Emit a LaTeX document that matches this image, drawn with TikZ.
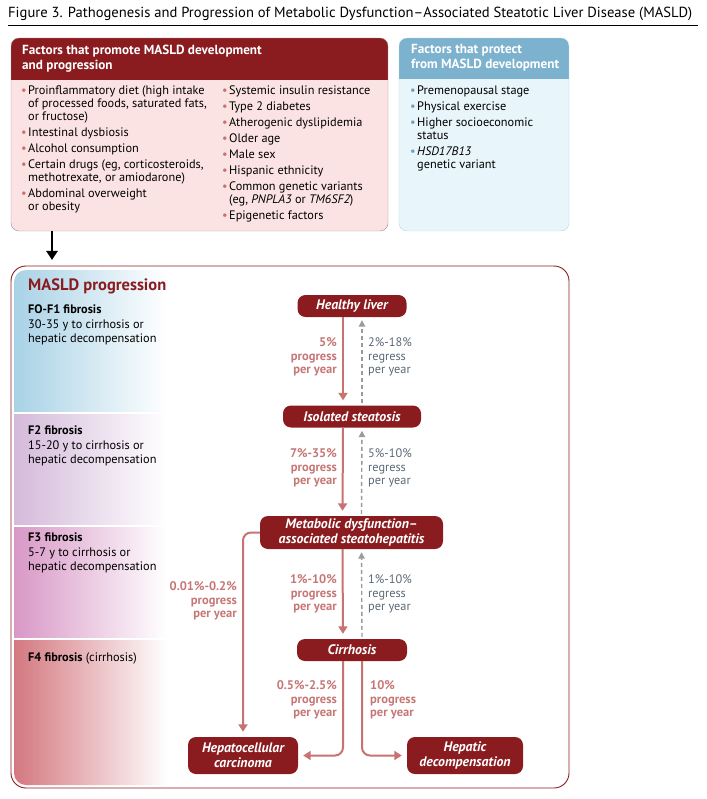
\documentclass[tikz,border=0pt]{standalone}
\usepackage{fontspec}
\setmainfont{PT Sans}
\usetikzlibrary{arrows.meta,positioning,calc}
\definecolor{maroon}{RGB}{138,28,32}
\definecolor{pinkbg}{RGB}{252,227,227}
\definecolor{pinkline}{RGB}{160,140,140}
\definecolor{bluehead}{RGB}{125,178,206}
\definecolor{bluebg}{RGB}{232,245,251}
\definecolor{blueline}{RGB}{184,214,230}
\definecolor{bulred}{RGB}{205,110,110}
\definecolor{bulblue}{RGB}{110,160,190}
\definecolor{progcol}{RGB}{200,114,114}
\definecolor{labcol}{RGB}{199,118,118}
\definecolor{regcol}{RGB}{90,104,118}
\definecolor{dashcol}{RGB}{155,155,155}
\definecolor{bandA}{RGB}{168,210,230}
\definecolor{bandB}{RGB}{212,186,218}
\definecolor{bandC}{RGB}{216,152,198}
\definecolor{bandD}{RGB}{212,120,128}
\newcommand{\itm}[1]{\makebox[7pt][l]{\textcolor{bulred}{\textbullet}}#1}
\newcommand{\itb}[1]{\makebox[7pt][l]{\textcolor{bulblue}{\textbullet}}#1}
\newcommand{\cnt}[1]{\hspace*{7pt}#1}
\tikzset{
  stage/.style={fill=maroon, rounded corners=8pt, text=white, align=center,
    font=\fontsize{13.8}{15}\selectfont\bfseries\itshape, inner sep=0pt,
    minimum height=22pt},
  prog/.style={progcol, line width=2pt, -{Triangle[width=9pt,length=7.5pt]}},
  regr/.style={dashcol, line width=1.4pt, dash pattern=on 4pt off 3pt,
    -{Triangle[width=6.5pt,length=6.5pt]}},
  prlab/.style={anchor=east, align=right, text=labcol, inner sep=0pt,
    font=\fontsize{12.5}{13.5}\selectfont\bfseries},
  rglab/.style={anchor=west, align=left, text=regcol, inner sep=0pt,
    font=\fontsize{12.3}{13.5}\selectfont},
  listtext/.style={anchor=north west, align=left, inner sep=0pt,
    font=\fontsize{12.3}{13}\selectfont},
  headtext/.style={anchor=north west, align=left, inner sep=0pt, text=white,
    font=\fontsize{13.2}{15}\selectfont\bfseries},
  stagetext/.style={anchor=north west, align=left, inner sep=0pt,
    font=\fontsize{12.3}{14.5}\selectfont}
}
\begin{document}
\begin{tikzpicture}[x=1pt, y=-1pt]
\useasboundingbox (0,0) rectangle (706,799);
% title
\node[anchor=west, inner sep=0pt, font=\fontsize{14.6}{16}\selectfont] (title) at (8,14)
  {Figure 3. Pathogenesis and Progression of Metabolic Dysfunction–Associated Steatotic Liver Disease (MASLD)};
\draw[line width=1pt] (8,26) -- (698,26);
% promoting factors
\begin{scope}
\fill[pinkbg, rounded corners=8pt] (11,38) rectangle (388,231);
\clip[rounded corners=8pt] (11,38) rectangle (388,231);
\fill[maroon] (11,38) rectangle (388,80);
\end{scope}
\draw[pinkline, rounded corners=8pt] (11,38) rectangle (388,231);
\node[headtext] (promhead) at (22,44.5) {Factors that promote MASLD development\\and progression};
\node[listtext] (promA) at (21,86) {\itm{Proinflammatory diet (high intake}\\
  \cnt{of processed foods, saturated fats,}\\
  \cnt{or fructose)}\\[3pt]
  \itm{Intestinal dysbiosis}\\[3pt]
  \itm{Alcohol consumption}\\[3pt]
  \itm{Certain drugs (eg, corticosteroids,}\\
  \cnt{methotrexate, or amiodarone)}\\[3pt]
  \itm{Abdominal overweight}\\
  \cnt{or obesity}};
\node[listtext] (promB) at (222,86) {\itm{Systemic insulin resistance}\\[3pt]
  \itm{Type 2 diabetes}\\[3pt]
  \itm{Atherogenic dyslipidemia}\\[3pt]
  \itm{Older age}\\[3pt]
  \itm{Male sex}\\[3pt]
  \itm{Hispanic ethnicity}\\[3pt]
  \itm{Common genetic variants}\\
  \cnt{(eg, \textit{PNPLA3} or \textit{TM6SF2})}\\[3pt]
  \itm{Epigenetic factors}};
% protecting factors
\begin{scope}
\fill[bluebg, rounded corners=8pt] (399,38) rectangle (569,231);
\clip[rounded corners=8pt] (399,38) rectangle (569,231);
\fill[bluehead] (399,38) rectangle (569,79);
\end{scope}
\draw[blueline, rounded corners=8pt] (399,38) rectangle (569,231);
\node[headtext] (prothead) at (411,44.5) {Factors that protect\\from MASLD development};
\node[listtext] (protA) at (410,86) {\itb{Premenopausal stage}\\[3pt]
  \itb{Physical exercise}\\[3pt]
  \itb{Higher socioeconomic}\\
  \cnt{status}\\[3pt]
  \itb{\textit{HSD17B13}}\\
  \cnt{genetic variant}};
% arrow into progression
\coordinate (arrtop) at (52,231);
\coordinate (arrbot) at (52,260);
\draw[line width=2.5pt, -{Triangle[width=11pt,length=9pt]}] (arrtop) -- (arrbot);
% progression frame and fibrosis bands
\begin{scope}
\clip[rounded corners=12pt] (14,270) rectangle (566,785);
\shade[left color=bandA, right color=white] (14,270) rectangle (167,411);
\shade[left color=bandB, right color=white] (14,414) rectangle (167,524);
\shade[left color=bandC, right color=white] (14,527) rectangle (167,637);
\shade[left color=bandD, right color=white] (14,640) rectangle (167,785);
\end{scope}
\draw[maroon, line width=0.9pt, rounded corners=15pt] (11,266) rectangle (569,788);
\node[anchor=north west, inner sep=0pt, text=maroon, font=\fontsize{16.5}{18}\selectfont\bfseries] (prtitle) at (28,279) {MASLD progression};
\node[stagetext] (fA) at (28,305) {\textbf{FO-F1 fibrosis}\\30-35 y to cirrhosis or\\hepatic decompensation};
\node[stagetext] (fB) at (28,426) {\textbf{F2 fibrosis}\\15-20 y to cirrhosis or\\hepatic decompensation};
\node[stagetext] (fC) at (28,533) {\textbf{F3 fibrosis}\\5-7 y to cirrhosis or\\hepatic decompensation};
\node[stagetext] (fD) at (28,653) {\textbf{F4 fibrosis} (cirrhosis)};
% disease stages
\node[stage, minimum width=109pt] (hl) at (352,306) {Healthy liver};
\node[stage, minimum width=138pt] (is) at (352,416.5) {Isolated steatosis};
\node[stage, minimum width=183pt, minimum height=33pt] (mash) at (351.5,532.5) {Metabolic dysfunction–\\associated steatohepatitis};
\node[stage, minimum width=110pt] (cir) at (352,650) {Cirrhosis};
\node[stage, minimum width=110pt, minimum height=37pt] (hcc) at (243,755.5) {Hepatocellular\\carcinoma};
\node[stage, minimum width=116pt, minimum height=37pt] (hd) at (465,755.5) {Hepatic\\decompensation};
% progress and regress
\draw[prog, shorten >=5pt] ([xshift=-9pt]hl.south) -- ([xshift=-9pt]is.north);
\draw[regr, shorten >=3pt, shorten <=2pt] ([xshift=10pt]is.north) -- ([xshift=10pt]hl.south);
\draw[prog, shorten >=5pt] ([xshift=-9pt]is.south) -- ([xshift=-9pt]mash.north);
\draw[regr, shorten >=3pt, shorten <=2pt] ([xshift=10pt]mash.north) -- ([xshift=10pt]is.south);
\draw[prog, shorten >=5pt] ([xshift=-9pt]mash.south) -- ([xshift=-9pt]cir.north);
\draw[regr, shorten >=3pt, shorten <=2pt] ([xshift=10pt]cir.north) -- ([xshift=10pt]mash.south);
\draw[prog, rounded corners=8pt, shorten >=5pt] (mash.west) -| (hcc.north);
\draw[prog, rounded corners=8pt, shorten >=5pt] ([xshift=-9pt]cir.south) |- (hcc.east);
\draw[prog, rounded corners=8pt, shorten >=5pt] ([xshift=10pt]cir.south) |- (hd.west);
% rates
\node[prlab] (pA) at (337,357) {5\%\\progress\\per year};
\node[rglab] (rA) at (368,357) {2\%-18\%\\regress\\per year};
\node[prlab] (pB) at (337,468) {7\%-35\%\\progress\\per year};
\node[rglab] (rB) at (368,468) {5\%-10\%\\regress\\per year};
\node[prlab] (pC) at (337,594) {1\%-10\%\\progress\\per year};
\node[rglab] (rC) at (368,594) {1\%-10\%\\regress\\per year};
\node[prlab] (pD) at (237,601) {0.01\%-0.2\%\\progress\\per year};
\node[prlab] (pE) at (337,700) {0.5\%-2.5\%\\progress\\per year};
\node[prlab, anchor=west, align=left] (pF) at (370,700) {10\%\\progress\\per year};
\end{tikzpicture}
\end{document}
